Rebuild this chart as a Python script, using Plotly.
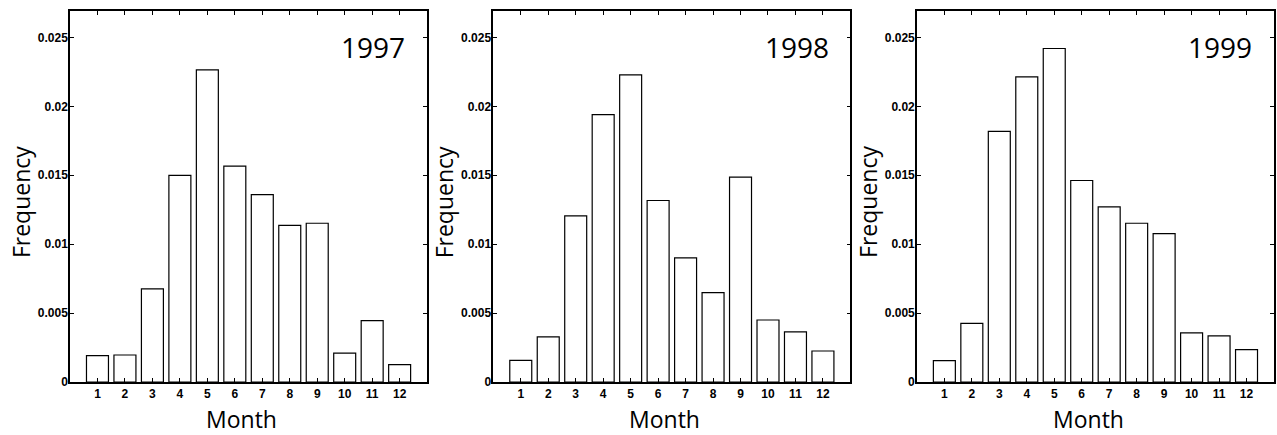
import plotly.graph_objects as go

months = list(range(1, 13))
month_labels = [str(m) for m in months]
years = ["1997", "1998", "1999"]
freq_1997 = [0.00191, 0.00196, 0.00675, 0.0150, 0.02265, 0.01566, 0.0136, 0.01137, 0.01152, 0.0021, 0.00445, 0.00126]
freq_1998 = [0.00157, 0.00327, 0.01205, 0.0194, 0.02229, 0.01317, 0.0090, 0.00649, 0.01486, 0.0045, 0.00363, 0.00225]
freq_1999 = [0.00155, 0.00426, 0.01818, 0.02214, 0.0242, 0.01462, 0.0127, 0.01152, 0.01077, 0.00356, 0.00334, 0.00235]
y_ticks = [0, 0.005, 0.01, 0.015, 0.02, 0.025]
y_tick_labels = ["0", "0.005", "0.01", "0.015", "0.02", "0.025"]
x_title = "Month"
y_title = "Frequency"

series = [freq_1997, freq_1998, freq_1999]

W, H = 1277, 435
ML, MR, MT, MB = 70, 1, 11, 53
PW = W - ML - MR
panel_px = [(70, 427.7), (494, 851.7), (918.3, 1276.0)]
domains = [[(a - ML) / PW, min(1.0, (b - ML) / PW)] for a, b in panel_px]

tick_font = dict(family="Liberation Sans, Arial, sans-serif", size=12, color="black", weight="bold")
title_font = dict(family="Open Sans, sans-serif", size=23, color="black")

fig = go.Figure()
for i, (yr, vals) in enumerate(zip(years, series)):
    xa = "x" if i == 0 else f"x{i+1}"
    ya = "y" if i == 0 else f"y{i+1}"
    fig.add_trace(go.Bar(
        x=months, y=vals, xaxis=xa, yaxis=ya,
        marker=dict(color="white", line=dict(color="black", width=1.2)),
        width=0.8, showlegend=False, hoverinfo="x+y",
    ))
    xkey = "xaxis" if i == 0 else f"xaxis{i+1}"
    ykey = "yaxis" if i == 0 else f"yaxis{i+1}"
    fig.update_layout(**{
        xkey: dict(
            domain=domains[i], anchor=ya, range=[0, 13],
            tickmode="array", tickvals=months, ticktext=month_labels,
            ticks="inside", ticklen=4, tickwidth=1, tickcolor="black",
            showline=True, linecolor="black", linewidth=1.5, mirror="allticks",
            showgrid=False, zeroline=False, tickfont=tick_font,
        ),
        ykey: dict(
            domain=[0, 1], anchor=xa, range=[0, 0.02692],
            tickmode="array", tickvals=y_ticks, ticktext=y_tick_labels,
            ticks="inside", ticklen=4, tickwidth=1, tickcolor="black",
            showline=True, linecolor="black", linewidth=1.5, mirror="allticks",
            showgrid=False, zeroline=False, tickfont=tick_font,
            ticklabelstandoff=-2,
        ),
    })
    # year label
    fig.add_annotation(
        xref=f"{xa} domain", yref=f"{ya} domain", x=0.945, y=0.902,
        xanchor="right", yanchor="middle", text=yr, showarrow=False,
        font=dict(family="Open Sans, sans-serif", size=28, color="black"),
    )
    # axis titles
    fig.add_annotation(
        xref=f"{xa} domain", yref=f"{ya} domain", x=0.48, y=0, yshift=-37,
        xanchor="center", yanchor="middle", text=x_title, showarrow=False,
        font=title_font,
    )
    fig.add_annotation(
        xref=f"{xa} domain", yref=f"{ya} domain", x=0, y=0.485, xshift=-49,
        xanchor="center", yanchor="middle", text=y_title, showarrow=False,
        textangle=-90, font=title_font,
    )

fig.update_layout(
    width=W, height=H,
    margin=dict(l=ML, r=MR, t=MT, b=MB),
    paper_bgcolor="white", plot_bgcolor="white",
    bargap=0.2,
)

fig.write_html(
    "out.html",
    config={"displayModeBar": False},
    post_script="document.body.style.margin='0px';document.body.style.overflow='hidden';",
)
